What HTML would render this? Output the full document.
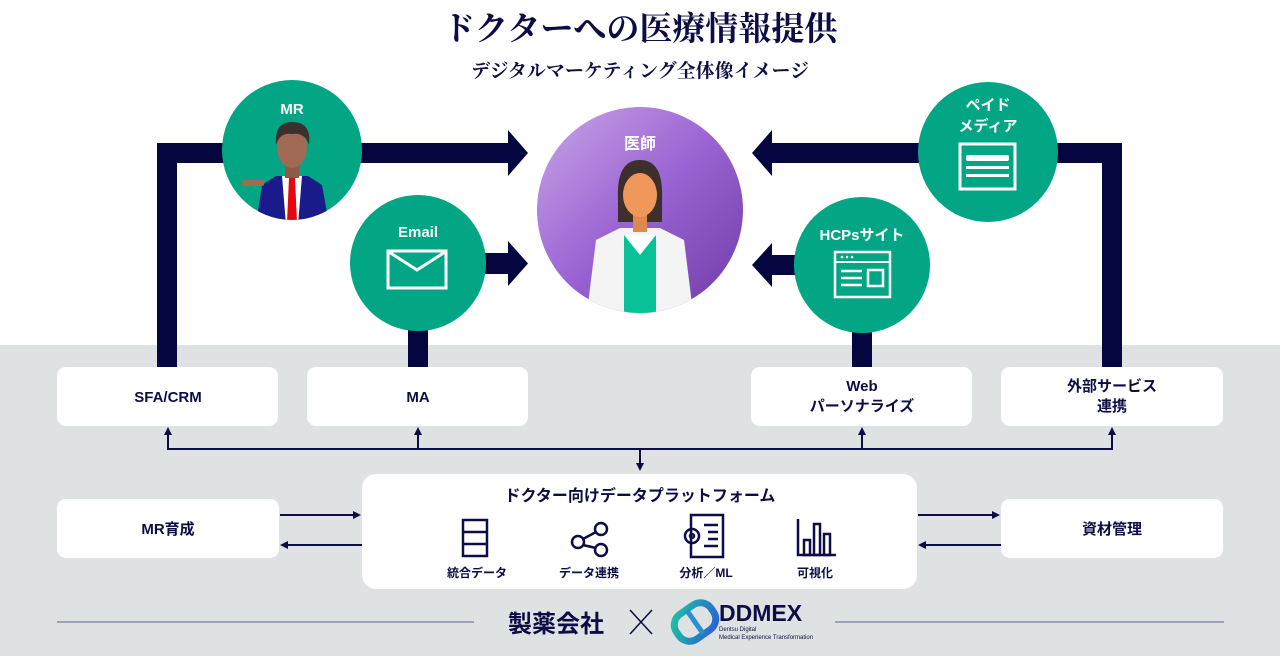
<!DOCTYPE html>
<html><head><meta charset="utf-8"><style>
html,body{margin:0;padding:0;width:1280px;height:656px;overflow:hidden;background:#fff}
svg{display:block}
.s{font-family:"Liberation Sans","Noto Sans CJK JP",sans-serif;font-weight:bold}
</style></head><body>
<svg width="1280" height="656" viewBox="0 0 1280 656" xmlns="http://www.w3.org/2000/svg">
<defs>
<linearGradient id="pg" x1="0" y1="0" x2="1" y2="1"><stop offset="0" stop-color="#c9a6e6"/><stop offset="0.5" stop-color="#9a63d3"/><stop offset="1" stop-color="#6f3aa8"/></linearGradient>
<clipPath id="dc"><circle cx="640" cy="210" r="103"/></clipPath>
<clipPath id="mc"><circle cx="292" cy="150" r="70"/></clipPath>
<linearGradient id="lg" x1="0" y1="0" x2="1" y2="1"><stop offset="0" stop-color="#1fc2a0"/><stop offset="1" stop-color="#2a5fd6"/></linearGradient>
</defs>
<rect x="0" y="345" width="1280" height="311" fill="#dfe2e3"/>
<text x="640" y="40" text-anchor="middle" font-family="'Liberation Serif','Noto Serif CJK SC',serif" font-weight="bold" font-size="33" fill="#0d0d45">ドクターへの医療情報提供</text>
<text x="640" y="77" text-anchor="middle" font-family="'Liberation Serif','Noto Serif CJK SC',serif" font-weight="bold" font-size="19" fill="#0d0d45">デジタルマーケティング全体像イメージ</text>
<g fill="#05053f">
<rect x="157" y="143" width="20" height="224"/>
<rect x="157" y="143" width="353" height="20"/>
<polygon points="508,130 528,153 508,176"/>
<rect x="408" y="253" width="102" height="21"/>
<polygon points="508,241 528,263.5 508,286"/>
<rect x="408" y="263" width="20" height="104"/>
<rect x="1102" y="143" width="20" height="224"/>
<rect x="770" y="143" width="352" height="20"/>
<polygon points="772,130 752,153 772,176"/>
<rect x="770" y="255" width="92" height="20"/>
<polygon points="772,243 752,265 772,287"/>
<rect x="852" y="268" width="20" height="99"/>
</g>
<circle cx="292" cy="150" r="70" fill="#03a684"/>
<g clip-path="url(#mc)">
<path d="M262 185 L276 176 L308 176 L322 185 L330 230 L255 230 Z" fill="#1a1a8a"/>
<rect x="242" y="180" width="22" height="6" rx="2" fill="#a06a55"/>
<path d="M282 176 L302 176 L298 225 L286 225 Z" fill="#fff"/>
<path d="M289 178 L295 178 L297 222 L287 222 Z" fill="#e5070f"/>
<rect x="285" y="160" width="14" height="18" fill="#8c5a45"/>
<ellipse cx="292" cy="148" rx="15" ry="20" fill="#a06a55"/>
<path d="M276 145 Q274 122 292 122 Q312 122 309 145 Q305 132 292 134 Q280 132 276 145 Z" fill="#3b302d"/>
</g>
<text x="292" y="114" text-anchor="middle" class="s" font-size="15" fill="#fff">MR</text>
<circle cx="418" cy="263" r="68" fill="#03a684"/>
<text x="418" y="237" text-anchor="middle" class="s" font-size="15" fill="#fff">Email</text>
<rect x="388" y="251" width="58" height="37" fill="none" stroke="#fff" stroke-width="3"/>
<polyline points="389,252 417,270 445,252" fill="none" stroke="#fff" stroke-width="3"/>
<circle cx="640" cy="210" r="103" fill="url(#pg)"/>
<g clip-path="url(#dc)">
<path d="M596 240 L620 228 L660 228 L684 240 L694 320 L586 320 Z" fill="#f4f4f4"/>
<rect x="624" y="235" width="32" height="90" fill="#08c196"/>
<path d="M624 235 L640 255 L656 235 Z" fill="#fff"/>
<path d="M618 200 Q616 160 640 160 Q664 160 662 200 L662 222 L618 222 Z" fill="#3d2f2c"/>
<rect x="633" y="210" width="14" height="22" fill="#e0894d"/>
<ellipse cx="640" cy="195" rx="17" ry="22" fill="#f0985a"/>
<path d="M622 190 Q622 165 640 166 Q658 165 658 190 Q652 172 640 172 Q628 172 622 190 Z" fill="#3d2f2c"/>
</g>
<text x="640" y="149" text-anchor="middle" class="s" font-size="16" fill="#fff">医師</text>
<circle cx="862" cy="265" r="68" fill="#03a684"/>
<text x="862" y="240" text-anchor="middle" class="s" font-size="15" fill="#fff">HCPsサイト</text>
<rect x="835" y="252" width="55" height="45" fill="none" stroke="#fff" stroke-width="2.5"/>
<line x1="835" y1="262" x2="890" y2="262" stroke="#fff" stroke-width="2"/>
<circle cx="842" cy="257" r="1.3" fill="#fff"/><circle cx="847" cy="257" r="1.3" fill="#fff"/><circle cx="852" cy="257" r="1.3" fill="#fff"/>
<g stroke="#fff" stroke-width="2.5"><line x1="841" y1="271" x2="862" y2="271"/><line x1="841" y1="278" x2="862" y2="278"/><line x1="841" y1="285" x2="862" y2="285"/></g>
<rect x="868" y="270" width="15" height="16" fill="none" stroke="#fff" stroke-width="2.5"/>
<circle cx="988" cy="152" r="70" fill="#03a684"/>
<text x="988" y="110" text-anchor="middle" class="s" font-size="15" fill="#fff">ペイド</text>
<text x="988" y="131" text-anchor="middle" class="s" font-size="15" fill="#fff">メディア</text>
<rect x="960" y="144" width="55" height="45" fill="none" stroke="#fff" stroke-width="3"/>
<rect x="966" y="155" width="43" height="6" rx="2" fill="#fff"/>
<rect x="966" y="166" width="43" height="3" fill="#fff"/>
<rect x="966" y="174" width="43" height="3" fill="#fff"/>
<g fill="#fff">
<rect x="57" y="367" width="221" height="59" rx="9"/>
<rect x="307" y="367" width="221" height="59" rx="9"/>
<rect x="751" y="367" width="221" height="59" rx="9"/>
<rect x="1001" y="367" width="222" height="59" rx="9"/>
<rect x="57" y="499" width="222" height="59" rx="9"/>
<rect x="1001" y="499" width="222" height="59" rx="9"/>
<rect x="362" y="474" width="555" height="115" rx="14"/>
</g>
<g class="s" font-size="15" fill="#0d0d45" text-anchor="middle">
<text x="168" y="402">SFA/CRM</text>
<text x="418" y="402">MA</text>
<text x="862" y="391">Web</text>
<text x="862" y="411">パーソナライズ</text>
<text x="1112" y="391">外部サービス</text>
<text x="1112" y="411">連携</text>
<text x="168" y="534">MR育成</text>
<text x="1112" y="534">資材管理</text>
<text x="640" y="501" font-size="16">ドクター向けデータプラットフォーム</text>
<g font-size="12"><text x="477" y="577">統合データ</text><text x="589" y="577">データ連携</text><text x="706" y="577">分析／ML</text><text x="815" y="577">可視化</text></g>
</g>
<g stroke="#0d0d45" stroke-width="2" fill="none">
<polyline points="168,433 168,449 1112,449 1112,433"/>
<line x1="418" y1="433" x2="418" y2="449"/>
<line x1="862" y1="433" x2="862" y2="449"/>
<line x1="640" y1="449" x2="640" y2="465"/>
<line x1="280" y1="515" x2="354" y2="515"/>
<line x1="362" y1="545" x2="288" y2="545"/>
<line x1="918" y1="515" x2="993" y2="515"/>
<line x1="1001" y1="545" x2="926" y2="545"/>
</g>
<g fill="#0d0d45">
<polygon points="164,435 168,427 172,435"/><polygon points="414,435 418,427 422,435"/>
<polygon points="858,435 862,427 866,435"/><polygon points="1108,435 1112,427 1116,435"/>
<polygon points="636,463 640,471 644,463"/>
<polygon points="353,511 361,515 353,519"/><polygon points="288,541 280,545 288,549"/>
<polygon points="992,511 1000,515 992,519"/><polygon points="926,541 918,545 926,549"/>
</g>
<g stroke="#0d0d45" stroke-width="2.5" fill="none">
<rect x="463" y="520" width="24" height="36"/><line x1="463" y1="532" x2="487" y2="532"/><line x1="463" y1="544" x2="487" y2="544"/>
<circle cx="601" cy="529" r="6"/><circle cx="601" cy="550" r="6"/><circle cx="578" cy="542" r="6"/>
<line x1="583" y1="539" x2="596" y2="532"/><line x1="583" y1="545" x2="596" y2="548"/>
<rect x="691" y="515" width="32" height="42"/>
<line x1="704" y1="525" x2="718" y2="525"/><line x1="708" y1="532" x2="718" y2="532"/><line x1="708" y1="539" x2="718" y2="539"/><line x1="704" y1="546" x2="718" y2="546"/>
<circle cx="692" cy="536" r="7"/><circle cx="692" cy="536" r="2"/>
<polyline points="798,519 798,555 836,555"/>
<rect x="804" y="540" width="6" height="15"/><rect x="814" y="524" width="6" height="31"/><rect x="824" y="534" width="6" height="21"/>
</g>
<line x1="57" y1="622" x2="474" y2="622" stroke="#8a8aad" stroke-width="1.5"/>
<line x1="835" y1="622" x2="1224" y2="622" stroke="#8a8aad" stroke-width="1.5"/>
<text x="556" y="632" text-anchor="middle" class="s" font-size="24" fill="#0d0d45">製薬会社</text>
<g stroke="#0d0d45" stroke-width="1.5"><line x1="630" y1="610" x2="652" y2="634"/><line x1="652" y1="610" x2="630" y2="634"/></g>
<g transform="translate(695,622) rotate(-35)">
<rect x="-21" y="-15" width="42" height="30" rx="13" fill="none" stroke="url(#lg)" stroke-width="7"/>
<line x1="0" y1="-14" x2="0" y2="14" stroke="#2a8fd0" stroke-width="5"/>
</g>
<text x="719" y="621" class="s" font-size="23" fill="#0d0d45">DDMEX</text>
<text x="719" y="631" font-family="'Liberation Sans',sans-serif" font-size="6" fill="#0d0d45">Dentsu Digital</text>
<text x="719" y="639" font-family="'Liberation Sans',sans-serif" font-size="6" fill="#0d0d45">Medical Experience Transformation</text>
</svg>
</body></html>
